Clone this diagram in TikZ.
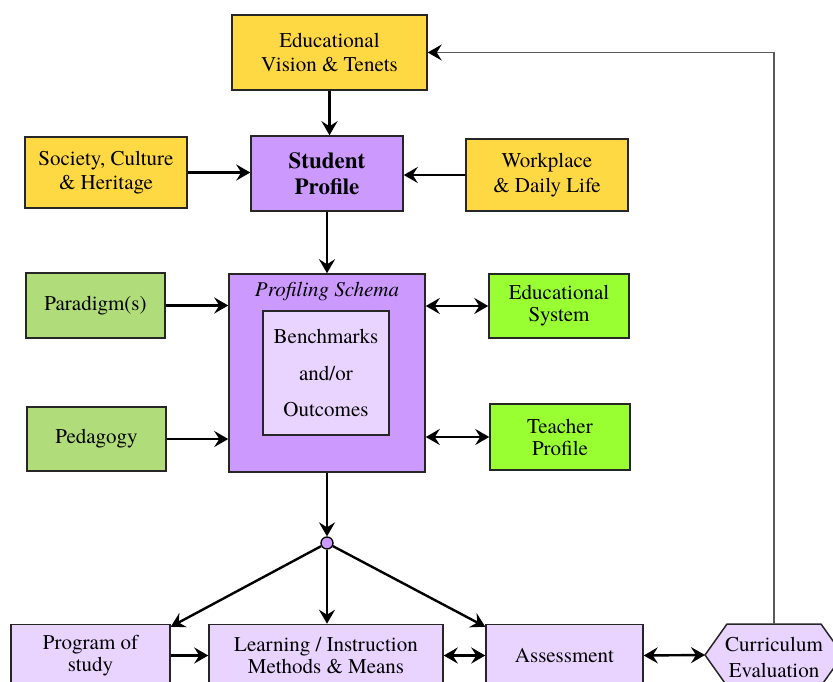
\documentclass[tikz,border=0pt]{standalone}
\usepackage{fontspec}
\setmainfont{texgyretermes}[Extension=.otf, UprightFont=*-regular, BoldFont=*-bold, ItalicFont=*-italic, BoldItalicFont=*-bolditalic]
\usetikzlibrary{arrows.meta,shapes.geometric}
\definecolor{gold}{HTML}{FFD944}
\definecolor{lilac}{HTML}{CC99FF}
\definecolor{lavender}{HTML}{E8D4FF}
\definecolor{sage}{HTML}{B0DC7A}
\definecolor{lime}{HTML}{99FF33}
\begin{document}
\begin{tikzpicture}[x=1pt,y=-1pt,
  bx/.style={draw=black!85, line width=1.5pt, align=center, inner sep=0pt,
    font=\fontsize{21}{24.5}\selectfont},
  arr/.style={line width=2.4pt, -{Stealth[length=14pt,width=16pt,inset=5pt]}},
  darr/.style={line width=2.4pt, {Stealth[length=14pt,width=16pt,inset=5pt]}-{Stealth[length=14pt,width=16pt,inset=5pt]}},
  fb/.style={line width=1.3pt, draw=black!65, -{Stealth[length=14pt,width=16pt,inset=5pt,color=black]}}
]
\useasboundingbox (0,0) rectangle (833,682);
\clip (0,0) rectangle (833,682);

% top row
\node[bx, fill=gold, minimum width=195pt, minimum height=75pt] (vis) at (329.5,52.5) {Educational\\Vision \& Tenets};
\node[bx, fill=lilac, minimum width=152pt, minimum height=75pt,
  font=\fontsize{23}{26}\selectfont\bfseries] (stu) at (327,173.5) {Student\\Profile};
\node[bx, fill=gold, minimum width=162pt, minimum height=71pt] (soc) at (106,172.5) {Society, Culture\\\& Heritage};
\node[bx, fill=gold, minimum width=162pt, minimum height=72pt] (wor) at (547,175) {Workplace\\\& Daily Life};

% profiling schema
\node[bx, fill=lilac, minimum width=196pt, minimum height=198pt] (prof) at (327,373) {};
\node[font=\fontsize{21}{24.5}\selectfont\itshape] (proft) at (327,292) {Profiling Schema};
\node[bx, fill=lavender, minimum width=126pt, minimum height=124pt,
  font=\fontsize{21}{36.5}\selectfont] (bench) at (326,373) {Benchmarks\\and/or\\Outcomes};

% side boxes
\node[bx, fill=sage, minimum width=139pt, minimum height=65pt] (par) at (95.5,305.5) {Paradigm(s)};
\node[bx, fill=sage, minimum width=139pt, minimum height=64pt] (ped) at (96.5,439) {Pedagogy};
\node[bx, fill=lime, minimum width=140pt, minimum height=64pt,
  font=\fontsize{21}{22}\selectfont] (eds) at (559,306) {Educational\\System};
\node[bx, fill=lime, minimum width=140pt, minimum height=66pt,
  font=\fontsize{21}{22}\selectfont] (tea) at (560,437) {Teacher\\Profile};

% junction
\node[circle, draw=black, line width=1.3pt, fill=lilac, minimum size=12pt, inner sep=0pt] (dot) at (327,543) {};

% bottom row
\node[bx, fill=lavender, minimum width=159pt, minimum height=62pt,
  font=\fontsize{21}{22}\selectfont] (prog) at (90.5,655.5) {Program of\\study};
\node[bx, fill=lavender, minimum width=234pt, minimum height=62pt,
  font=\fontsize{21}{22}\selectfont] (learn) at (326,655.5) {Learning / Instruction\\Methods \& Means};
\node[bx, fill=lavender, minimum width=157pt, minimum height=62pt] (ass) at (564.5,655.5) {Assessment};

% curriculum evaluation hexagon
\draw[draw=black!85, line width=1.5pt, fill=lavender]
  (705,655) -- (727,624) -- (821,624) -- (843,655) -- (821,686) -- (727,686) -- cycle;
\node[align=center, font=\fontsize{21}{26}\selectfont] (cur) at (774,657) {Curriculum\\Evaluation};
\coordinate (curL) at (705,655);
\coordinate (curT) at (774,624);

% connectors
\draw[arr] (vis.south) -- (vis.south |- stu.north);
\draw[arr] (soc.east) -- (soc.east -| stu.west);
\draw[arr] (wor.west) -- (wor.west -| stu.east);
\draw[arr] (stu.south) -- (stu.south |- prof.north);
\draw[arr] (par.east) -- (par.east -| prof.west);
\draw[arr] (ped.east) -- (ped.east -| prof.west);
\draw[darr] (prof.east |- eds.west) -- (eds.west);
\draw[darr] (prof.east |- tea.west) -- (tea.west);
\draw[arr] (prof.south) -- (dot.north);
\draw[arr] (dot) -- ([yshift=-3pt]prog.north east);
\draw[arr] (dot.south) -- (dot.south |- learn.north);
\draw[arr] (dot) -- ([yshift=-3pt]ass.north west);
\draw[arr] (prog.east) -- (learn.west);
\draw[darr] (learn.east) -- (ass.west);
\draw[darr] (ass.east) -- (curL);
\draw[fb] (curT) |- (vis.east);
\end{tikzpicture}
\end{document}
